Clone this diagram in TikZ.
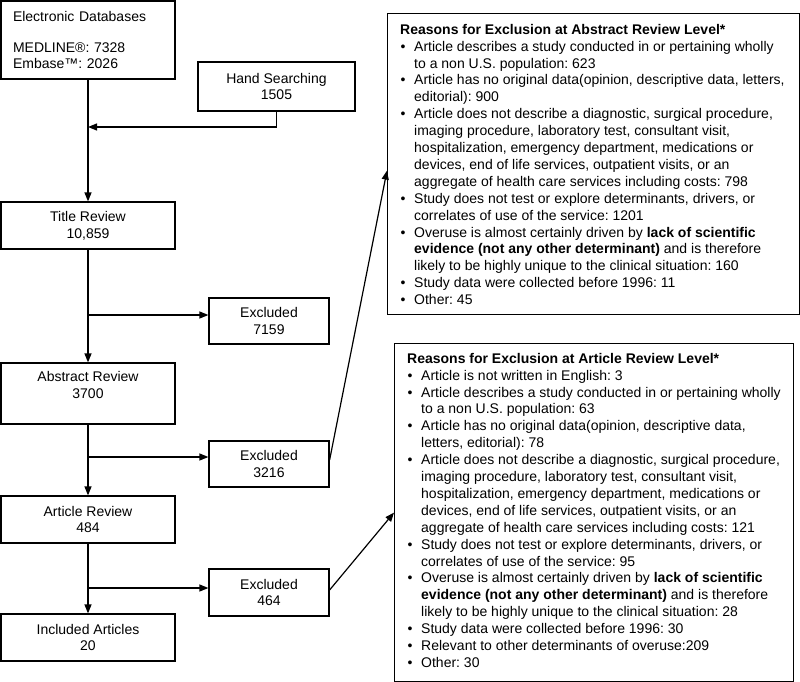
\documentclass[tikz,border=0pt]{standalone}
\usepackage{fontspec}
\setmainfont{Liberation Sans}
\usetikzlibrary{arrows.meta}
\newcommand{\bul}{\makebox[14pt][l]{\hspace{0.5pt}\textbullet}}
\frenchspacing
\begin{document}
\begin{tikzpicture}[x=1pt,y=-1pt,
  every node/.style={font=\fontsize{14}{16.9}\selectfont\frenchspacing, inner sep=0pt},
  box/.style={draw, line width=1.2pt, align=center},
  mainbox/.style={box, minimum width=174pt},
  exbox/.style={box, minimum width=120pt},
  listbox/.style={draw, line width=1.2pt},
  arr/.style={line width=1.2pt, -{Triangle[length=9pt,width=7pt]}},
  ln/.style={line width=1.2pt}]
\useasboundingbox (0,0) rectangle (800,682);

% left column
\node[box, minimum width=174pt, minimum height=78pt, align=left, text width=150pt, inner xsep=12pt] (edb) at (88,40)
  {Electronic Databases\\[14pt]MEDLINE®: 7328\\Embase™: 2026};
\node[box, minimum width=157pt, minimum height=49pt] (hand) at (276.5,86.5) {Hand Searching\\1505};
\node[mainbox, minimum height=47pt] (title) at (88,225.5) {Title Review\\10,859};
\node[mainbox, minimum height=61pt] (abs) at (88,393.5) {\raisebox{7pt}[\height][\depth]{\begin{tabular}{@{}c@{}}Abstract Review\\3700\end{tabular}}};
\node[mainbox, minimum height=47pt] (art) at (88,519.5) {Article Review\\484};
\node[mainbox, minimum height=47pt] (inc) at (88,637.5) {Included Articles\\20};

\node[exbox, minimum height=46pt] (ex1) at (269,321) {Excluded\\7159};
\node[exbox, minimum height=46pt] (ex2) at (269,464) {Excluded\\3216};
\node[exbox, minimum height=47pt] (ex3) at (269,592.5) {Excluded\\464};

% reason boxes
\node[listbox, minimum width=412pt, minimum height=301pt, anchor=north west] (absbox) at (387,13) {};
\node[anchor=north west] (abstext) at (400,22.2) {\begin{tabular}{@{}l@{}l@{}}
\multicolumn{2}{@{}l@{}}{\textbf{Reasons for Exclusion at Abstract Review Level*}}\\
\bul & Article describes a study conducted in or pertaining wholly\\
 & to a non U.S. population: 623\\
\bul & Article has no original data(opinion, descriptive data, letters,\\
 & editorial): 900\\
\bul & Article does not describe a diagnostic, surgical procedure,\\
 & imaging procedure, laboratory test, consultant visit,\\
 & hospitalization, emergency department, medications or\\
 & devices, end of life services, outpatient visits, or an\\
 & aggregate of health care services including costs: 798\\
\bul & Study does not test or explore determinants, drivers, or\\
 & correlates of use of the service: 1201\\
\bul & Overuse is almost certainly driven by \textbf{lack of scientific}\\
 & \textbf{evidence (not any other determinant)} and is therefore\\
 & likely to be highly unique to the clinical situation: 160\\
\bul & Study data were collected before 1996: 11\\
\bul & Other: 45
\end{tabular}};

\node[listbox, minimum width=399pt, minimum height=338pt, anchor=north west] (artbox) at (394,343) {};
\node[anchor=north west] (arttext) at (407,351.2) {\begin{tabular}{@{}l@{}l@{}}
\multicolumn{2}{@{}l@{}}{\textbf{Reasons for Exclusion at Article Review Level*}}\\
\bul & Article is not written in English: 3\\
\bul & Article describes a study conducted in or pertaining wholly\\
 & to a non U.S. population: 63\\
\bul & Article has no original data(opinion, descriptive data,\\
 & letters, editorial): 78\\
\bul & Article does not describe a diagnostic, surgical procedure,\\
 & imaging procedure, laboratory test, consultant visit,\\
 & hospitalization, emergency department, medications or\\
 & devices, end of life services, outpatient visits, or an\\
 & aggregate of health care services including costs: 121\\
\bul & Study does not test or explore determinants, drivers, or\\
 & correlates of use of the service: 95\\
\bul & Overuse is almost certainly driven by \textbf{lack of scientific}\\
 & \textbf{evidence (not any other determinant)} and is therefore\\
 & likely to be highly unique to the clinical situation: 28\\
\bul & Study data were collected before 1996: 30\\
\bul & Relevant to other determinants of overuse:209\\
\bul & Other: 30
\end{tabular}};

% connectors
\coordinate (j1) at (88,127);
\coordinate (j2) at (88,315);
\coordinate (j3) at (88,457);
\coordinate (j4) at (88,588);
\draw[arr] (edb) -- (title);
\draw[arr] (hand.south) |- (j1);
\draw[arr] (title) -- (abs);
\draw[arr] (abs) -- (art);
\draw[arr] (art) -- (inc);
\draw[arr] (j2) -- (j2 -| ex1.west);
\draw[arr] (j3) -- (j3 -| ex2.west);
\draw[arr] (j4) -- (j4 -| ex3.west);
\draw[arr] ([yshift=4pt]ex2.east) -- ([yshift=-6.5pt]absbox.west);
\draw[arr] ([yshift=2.5pt]ex3.east) -- (artbox.west);
\end{tikzpicture}
\end{document}
